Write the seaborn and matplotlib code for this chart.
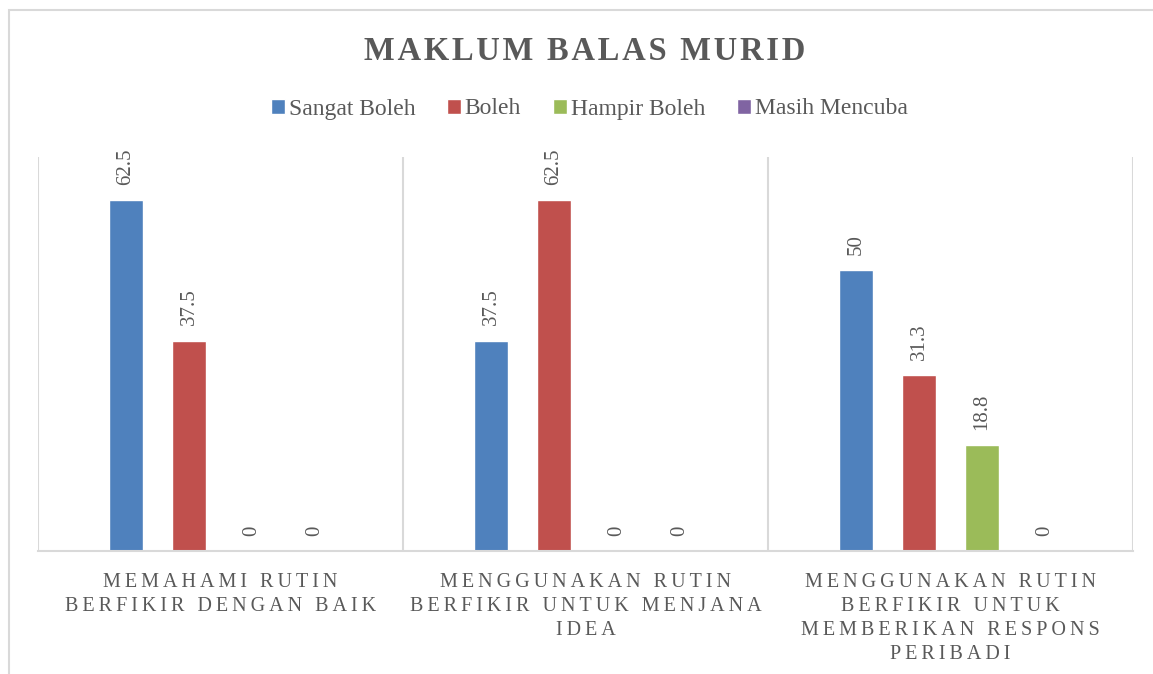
import pandas as pd
import matplotlib
matplotlib.use("Agg")
import matplotlib.pyplot as plt
import seaborn as sns
from matplotlib.patches import Rectangle

# data
categories = [
    "MEMAHAMI RUTIN\nBERFIKIR DENGAN BAIK",
    "MENGGUNAKAN RUTIN\nBERFIKIR UNTUK MENJANA\nIDEA",
    "MENGGUNAKAN RUTIN\nBERFIKIR UNTUK\nMEMBERIKAN RESPONS\nPERIBADI",
]
series = ["Sangat Boleh", "Boleh", "Hampir Boleh", "Masih Mencuba"]
sangat_boleh = [62.5, 37.5, 50]
boleh = [37.5, 62.5, 31.3]
hampir_boleh = [0, 0, 18.8]
masih_mencuba = [0, 0, 0]
colors = ["#4F81BD", "#C0504D", "#9BBB59", "#8064A2"]
title = "MAKLUM BALAS MURID"

values = [sangat_boleh, boleh, hampir_boleh, masih_mencuba]
rows = []
for s, vals in zip(series, values):
    for c, v in zip(categories, vals):
        rows.append({"Kategori": c, "Siri": s, "Nilai": v})
df = pd.DataFrame(rows)


def spaced(text, sep="\u200a"):
    # imitate the wide letter spacing with narrow spaces between letters
    return "\n".join(sep.join(line) for line in text.split("\n"))


sns.set_style("white")
plt.rcParams["font.family"] = ["Liberation Serif", "DejaVu Serif"]
grey = "#595959"

fig = plt.figure(figsize=(11.53, 6.74), dpi=100)
ax = fig.add_axes([38 / 1153, 1 - 551 / 674, (1133 - 38) / 1153, (551 - 157) / 674])

sns.barplot(data=df, x="Kategori", y="Nilai", hue="Siri", hue_order=series,
            order=categories, palette=colors, width=0.69, gap=0.46,
            saturation=1, ax=ax, legend=True)

for cont in ax.containers:
    ax.bar_label(cont, fmt="{:g}", rotation=90, padding=11,
                 color=grey, fontsize=15)

ax.set_ylim(0, 70.2)
ax.set_xlim(-0.5, 2.5)
for x in [-0.5, 0.5, 1.5, 2.5]:
    ax.axvline(x, color="#d9d9d9", lw=1.5, zorder=0)

for side in ["top", "right", "left"]:
    ax.spines[side].set_visible(False)
ax.spines["bottom"].set_color("#d9d9d9")
ax.spines["bottom"].set_linewidth(1.5)
ax.set_yticks([])
ax.set_xlabel("")
ax.set_ylabel("")
ax.set_xticks(range(len(categories)))
ax.set_xticklabels([spaced(c, "\u2009") for c in categories])
ax.tick_params(axis="x", length=0, pad=16, labelsize=14.5, colors=grey)
for t in ax.get_xticklabels():
    t.set_linespacing(1.35)

handles, labels = ax.get_legend_handles_labels()
ax.legend(handles, labels, loc="center", bbox_to_anchor=(0.511, 1 - 109 / 674),
          bbox_transform=fig.transFigure, ncol=4, frameon=False,
          fontsize=17, handlelength=0.6, handleheight=0.6,
          handletextpad=0.15, columnspacing=1.35, labelcolor=grey)

fig.text(0.507, 1 - 52 / 674, spaced(title), ha="center", va="center",
         fontsize=23.5, fontweight="bold", color=grey)

fig.patches.append(Rectangle((9 / 1153, -0.1), 1.2, 1 - 10 / 674 + 0.1,
                             transform=fig.transFigure, fill=False,
                             edgecolor="#d9d9d9", lw=1.5))

fig.savefig("out.png", dpi=100)
